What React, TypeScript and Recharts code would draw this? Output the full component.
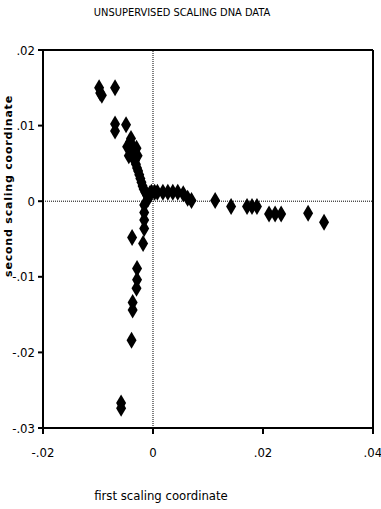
import { ScatterChart, Scatter, XAxis, YAxis, ReferenceLine } from 'recharts';

// first and second scaling coordinates
const firstCoord = [
    -0.0098, -0.0096, -0.0093, -0.0069, -0.0069, -0.0069, -0.0049,
    -0.0042, -0.004, -0.0038, -0.0036, -0.0041, -0.0034, -0.0037, -0.0033, -0.0031, -0.0029,
    -0.0027, -0.0025, -0.0023, -0.0021, -0.0019, -0.0017, -0.0014, -0.0011, -0.0009, -0.0006,
    -0.0003, -0.0047, -0.0044, -0.0028, -0.003,
    0.0003, 0.0008, 0.0018, 0.0027, 0.0036, 0.0045, 0.0055, 0.0063, 0.007,
    0.0113, 0.0142, 0.0171, 0.018, 0.0189, 0.0211, 0.0222, 0.0233, 0.0282, 0.0311,
    -0.0016, -0.0016, -0.0016, -0.0016, -0.0018, -0.0038, -0.0029, -0.0029, -0.003, -0.0037,
    -0.0037, -0.0039, -0.0058, -0.0058,
];
const secondCoord = [
    0.015, 0.0143, 0.014, 0.015, 0.0102, 0.0093, 0.0101,
    0.0078, 0.0083, 0.0074, 0.0069, 0.0066, 0.0062, 0.0058, 0.0054, 0.0049, 0.0044,
    0.004, 0.0035, 0.003, 0.0025, 0.002, 0.0016, 0.0012, 0.0008, 0.0003, 0.001,
    0.0012, 0.0072, 0.006, 0.006, 0.007,
    0.0012, 0.0012, 0.0012, 0.0012, 0.0012, 0.0012, 0.001, 0.0004, 0.0001,
    0.0001, -0.0007, -0.0007, -0.0007, -0.0007, -0.0017, -0.0017, -0.0017, -0.0016, -0.0028,
    -0.0005, -0.0015, -0.0025, -0.0036, -0.0056, -0.0048, -0.0089, -0.0104, -0.0115, -0.0134,
    -0.0144, -0.0184, -0.0267, -0.0274,
];
const xTicks = [-0.02, 0, 0.02, 0.04];
const yTicks = [-0.03, -0.02, -0.01, 0, 0.01, 0.02];

const points = firstCoord.map((x, i) => ({ x, y: secondCoord[i] }));

const fmt = (v: number) => (v === 0 ? '0' : v.toFixed(2).replace('0.', '.'));

const font = "'Liberation Sans Narrow', 'DejaVu Sans Condensed', sans-serif";

const Diamond = (props: any) => {
    const { cx, cy } = props;
    if (cx == null || cy == null) return null;
    const w = 5, h = 8.5;
    return <polygon points={`${cx},${cy - h} ${cx + w},${cy} ${cx},${cy + h} ${cx - w},${cy}`} fill="#000" />;
};

export default function App() {
    return (
        <div style={{ position: 'absolute', left: 0, top: 0, width: 381, height: 509, background: '#fff' }}>
            <ScatterChart width={381} height={509} margin={{ top: 50, right: 8, bottom: 41, left: 0 }}>
                <XAxis
                    type="number"
                    dataKey="x"
                    domain={[-0.02, 0.04]}
                    ticks={xTicks}
                    tickFormatter={fmt}
                    height={40}
                    stroke="#000"
                    strokeWidth={2}
                    tickSize={6}
                    tickMargin={14}
                    tick={{ fill: '#000', fontSize: 13, fontFamily: font }}
                />
                <YAxis
                    type="number"
                    dataKey="y"
                    domain={[-0.03, 0.02]}
                    ticks={yTicks}
                    tickFormatter={fmt}
                    width={43}
                    stroke="#000"
                    strokeWidth={2}
                    tickSize={5}
                    tickMargin={3}
                    tick={{ fill: '#000', fontSize: 13, fontFamily: font }}
                />
                <ReferenceLine y={0.02} stroke="#000" strokeWidth={2} />
                <ReferenceLine x={0.04} stroke="#000" strokeWidth={2} />
                <ReferenceLine y={0} stroke="#000" strokeWidth={1} strokeDasharray="1 1" />
                <ReferenceLine x={0} stroke="#000" strokeWidth={1} strokeDasharray="1 1" />
                <Scatter data={points} shape={<Diamond />} isAnimationActive={false} />
                <text x={182} y={16} textAnchor="middle" fontSize={11} fontFamily={font} fill="#000">
                    UNSUPERVISED SCALING DNA DATA
                </text>
                <text x={161} y={500} textAnchor="middle" fontSize={13} fontFamily={font} fill="#000">
                    first scaling coordinate
                </text>
                <text
                    x={12}
                    y={186}
                    transform="rotate(-90, 12, 186)"
                    textAnchor="middle"
                    fontSize={11}
                    fontWeight="bold"
                    letterSpacing={0.8}
                    fontFamily="'DejaVu Sans', sans-serif"
                    fill="#000"
                >
                    second scaling coordinate
                </text>
            </ScatterChart>
        </div>
    );
}
